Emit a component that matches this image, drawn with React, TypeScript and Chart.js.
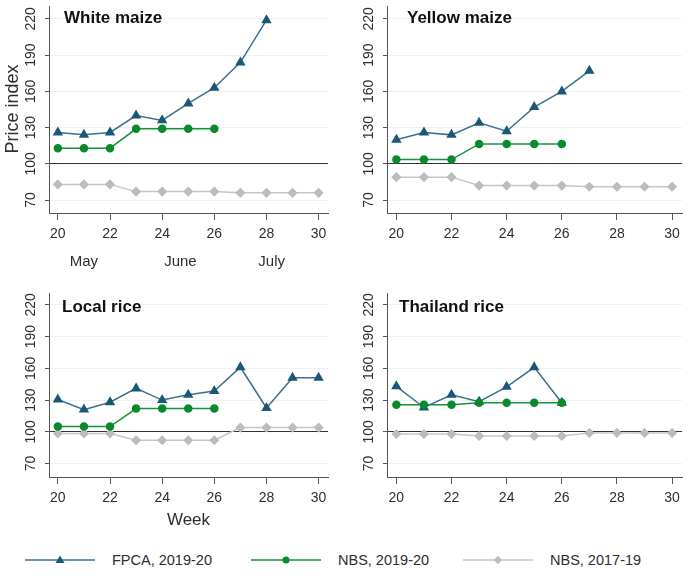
import React, { useEffect, useRef } from "react";
import { Chart, registerables } from "chart.js";

Chart.register(...registerables);

const FONT = '"Liberation Sans", Arial, Helvetica, sans-serif';

const weeks = [20, 21, 22, 23, 24, 25, 26, 27, 28, 29, 30];
const xTicks = [20, 22, 24, 26, 28, 30];
const yTicks = [70, 100, 130, 160, 190, 220];

const whiteFPCA = [126, 124, 126, 140, 136, 150, 163, 184, 219, null, null];
const whiteNBS20 = [113, 113, 113, 129, 129, 129, 129, null, null, null, null];
const whiteNBS17 = [83, 83, 83, 77, 77, 77, 77, 76, 76, 76, 76];

const yellowFPCA = [120, 126, 124, 134, 127, 147, 160, 177, null, null, null];
const yellowNBS20 = [103.5, 103.5, 103.5, 116.5, 116.5, 116.5, 116.5, null, null, null, null];
const yellowNBS17 = [89, 89, 89, 82, 82, 82, 82, 81, 81, 81, 81];

const localFPCA = [130.5, 121, 128, 141, 130, 135, 138.5, 161, 122.5, 151, 151];
const localNBS20 = [105, 105, 105, 122, 122, 122, 122, null, null, null, null];
const localNBS17 = [98.5, 98.5, 98.5, 92, 92, 92, 92, 104, 104, 104, 104];

const thaiFPCA = [143, 123, 135, 128.5, 142.5, 161, 127.5, null, null, null, null];
const thaiNBS20 = [125.5, 125.5, 125.5, 127.5, 127.5, 127.5, 127.5, null, null, null, null];
const thaiNBS17 = [98, 98, 98, 96, 96, 96, 96, 99, 99, 99, 99];

const seriesNames = ["FPCA, 2019-20", "NBS, 2019-20", "NBS, 2017-19"];
const monthLabels = ["May", "June", "July"];
const monthWeeks = [21, 24.7, 28.2];

const BLUE_LINE = "#3a6f8d";
const BLUE = "#1a5878";
const GREEN = "#13933a";
const GREEN_PT = "#0a8a2c";
const GRAY = "#c6c6c6";
const GRAY_PT = "#bcbcbc";
const TEXT = "#2e2e2e";
const AXIS = "#555";

type Area = { l: number; r: number; t: number; b: number };

type PanelProps = {
  title: string;
  fpca: (number | null)[];
  nbs20: (number | null)[];
  nbs17: (number | null)[];
  left: number;
  top: number;
  width: number;
  height: number;
  area: Area;
  yMin: number;
  yMax: number;
  titleDx: number;
  titleY: number;
  yLabel?: boolean;
  months?: boolean;
  xTitle?: boolean;
};

const toPts = (vals: (number | null)[]) =>
  weeks
    .map((w, i) => ({ x: w, y: vals[i] }))
    .filter((p) => p.y !== null) as { x: number; y: number }[];

function Panel(props: PanelProps) {
  const ref = useRef<HTMLCanvasElement | null>(null);
  useEffect(() => {
    const canvas = ref.current;
    if (!canvas) return;
    const { area, width, height } = props;

    const textPlugin = {
      id: "panelText",
      afterDraw(chart: any) {
        const { ctx, chartArea, scales } = chart;
        const ys = scales.y;
        const xs = scales.x;
        ctx.save();
        ctx.fillStyle = TEXT;
        ctx.font = `14px ${FONT}`;
        ctx.textAlign = "center";
        ctx.textBaseline = "middle";
        for (const v of yTicks) {
          const py = ys.getPixelForValue(v);
          ctx.save();
          ctx.translate(chartArea.left - 18, py);
          ctx.rotate(-Math.PI / 2);
          ctx.fillText(String(v), 0, 0);
          ctx.restore();
        }
        ctx.font = `bold 17px ${FONT}`;
        ctx.fillStyle = "#111";
        ctx.textAlign = "left";
        ctx.fillText(props.title, chartArea.left + props.titleDx, props.titleY);
        if (props.months) {
          ctx.font = `15px ${FONT}`;
          ctx.fillStyle = TEXT;
          ctx.textAlign = "center";
          monthLabels.forEach((m, i) => {
            ctx.fillText(m, xs.getPixelForValue(monthWeeks[i]), 262);
          });
        }
        if (props.yLabel) {
          ctx.save();
          ctx.font = `18px ${FONT}`;
          ctx.fillStyle = TEXT;
          ctx.translate(13, 109);
          ctx.rotate(-Math.PI / 2);
          ctx.textAlign = "center";
          ctx.fillText("Price index", 0, 0);
          ctx.restore();
        }
        if (props.xTitle) {
          ctx.font = `17px ${FONT}`;
          ctx.fillStyle = TEXT;
          ctx.textAlign = "center";
          ctx.fillText("Week", (chartArea.left + chartArea.right) / 2, 240);
        }
        ctx.restore();
      },
    };

    const chart = new Chart(canvas, {
      type: "line",
      data: {
        datasets: [
          {
            label: seriesNames[1],
            data: toPts(props.nbs20),
            borderColor: GREEN,
            backgroundColor: GREEN_PT,
            pointBackgroundColor: GREEN_PT,
            pointBorderColor: GREEN_PT,
            pointStyle: "circle",
            pointRadius: 3.5,
            borderWidth: 1.5,
            order: 0,
          },
          {
            label: seriesNames[0],
            data: toPts(props.fpca),
            borderColor: BLUE_LINE,
            backgroundColor: BLUE,
            pointBackgroundColor: BLUE,
            pointBorderColor: BLUE,
            pointStyle: "triangle",
            pointRadius: 4.5,
            borderWidth: 1.5,
            order: 1,
          },
          {
            label: seriesNames[2],
            data: toPts(props.nbs17),
            borderColor: GRAY,
            backgroundColor: GRAY_PT,
            pointBackgroundColor: GRAY_PT,
            pointBorderColor: GRAY_PT,
            pointStyle: "rectRot",
            pointRadius: 4,
            borderWidth: 1.5,
            order: 2,
          },
        ],
      },
      options: {
        responsive: false,
        animation: false,
        devicePixelRatio: 1,
        layout: { padding: { left: 0, top: area.t, right: width - area.r, bottom: 0 } },
        plugins: { legend: { display: false }, tooltip: { enabled: false } },
        scales: {
          x: {
            type: "linear",
            min: 19.66,
            max: 30.36,
            afterBuildTicks: (s: any) => {
              s.ticks = xTicks.map((v) => ({ value: v }));
            },
            afterFit: (s: any) => {
              s.height = height - area.b;
            },
            grid: { drawOnChartArea: false, drawTicks: true, tickLength: 7, tickColor: AXIS },
            border: { display: true, color: AXIS, width: 1 },
            ticks: {
              font: { family: FONT, size: 14 },
              color: TEXT,
              padding: 6,
              maxRotation: 0,
              minRotation: 0,
              autoSkip: false,
            },
          },
          y: {
            type: "linear",
            min: props.yMin,
            max: props.yMax,
            afterBuildTicks: (s: any) => {
              s.ticks = yTicks.map((v) => ({ value: v }));
            },
            afterFit: (s: any) => {
              s.width = area.l;
            },
            grid: {
              color: (c: any) => (c.tick && c.tick.value === 100 ? "#333" : "#edf1f3"),
              lineWidth: 1,
              drawTicks: true,
              tickLength: 4,
              tickColor: AXIS,
            },
            border: { display: true, color: AXIS, width: 1 },
            ticks: { display: false },
          },
        },
      },
      plugins: [textPlugin],
    } as any);
    return () => chart.destroy();
  }, []);
  return (
    <canvas
      ref={ref}
      width={props.width}
      height={props.height}
      style={{
        position: "absolute",
        left: props.left,
        top: props.top,
        width: props.width,
        height: props.height,
      }}
    />
  );
}

function Marker({ kind, color }: { kind: string; color: string }) {
  if (kind === "triangle") return <polygon points="35,1.5 39.5,9 30.5,9" fill={color} />;
  if (kind === "circle") return <circle cx={35} cy={6} r={3.5} fill={color} />;
  return <polygon points="35,1.8 39.2,6 35,10.2 30.8,6" fill={color} />;
}

const legendItems = [
  { name: seriesNames[0], line: BLUE_LINE, pt: BLUE, kind: "triangle", lineX: 25, textX: 112 },
  { name: seriesNames[1], line: GREEN, pt: GREEN_PT, kind: "circle", lineX: 251, textX: 338 },
  { name: seriesNames[2], line: GRAY, pt: GRAY_PT, kind: "diamond", lineX: 463, textX: 550 },
];

export default function App() {
  return (
    <div
      style={{
        position: "absolute",
        left: 0,
        top: 0,
        width: 688,
        height: 582,
        background: "#fff",
        overflow: "hidden",
        fontFamily: FONT,
      }}
    >
      <Panel
        title="White maize"
        fpca={whiteFPCA}
        nbs20={whiteNBS20}
        nbs17={whiteNBS17}
        left={0}
        top={0}
        width={344}
        height={280}
        area={{ l: 49, r: 328, t: 5, b: 213 }}
        yMin={59.3}
        yMax={230.7}
        titleDx={15}
        titleY={18.5}
        yLabel
        months
      />
      <Panel
        title="Yellow maize"
        fpca={yellowFPCA}
        nbs20={yellowNBS20}
        nbs17={yellowNBS17}
        left={344}
        top={0}
        width={344}
        height={280}
        area={{ l: 43, r: 338, t: 5, b: 213 }}
        yMin={59.3}
        yMax={230.7}
        titleDx={20}
        titleY={18.5}
      />
      <Panel
        title="Local rice"
        fpca={localFPCA}
        nbs20={localNBS20}
        nbs17={localNBS17}
        left={0}
        top={280}
        width={344}
        height={250}
        area={{ l: 49, r: 328, t: 13, b: 197 }}
        yMin={57.3}
        yMax={231.2}
        titleDx={13}
        titleY={27}
        xTitle
      />
      <Panel
        title="Thailand rice"
        fpca={thaiFPCA}
        nbs20={thaiNBS20}
        nbs17={thaiNBS17}
        left={344}
        top={280}
        width={344}
        height={250}
        area={{ l: 43, r: 338, t: 13, b: 197 }}
        yMin={57.3}
        yMax={231.2}
        titleDx={12}
        titleY={27}
      />
      {legendItems.map((it) => (
        <React.Fragment key={it.name}>
          <svg
            width={70}
            height={12}
            style={{ position: "absolute", left: it.lineX, top: 554 }}
          >
            <line x1={0} y1={6} x2={70} y2={6} stroke={it.line} strokeWidth={1.5} />
            <Marker kind={it.kind} color={it.pt} />
          </svg>
          <span
            style={{
              position: "absolute",
              left: it.textX,
              top: 552,
              fontSize: 14.5,
              lineHeight: "17px",
              color: TEXT,
              whiteSpace: "nowrap",
            }}
          >
            {it.name}
          </span>
        </React.Fragment>
      ))}
    </div>
  );
}
